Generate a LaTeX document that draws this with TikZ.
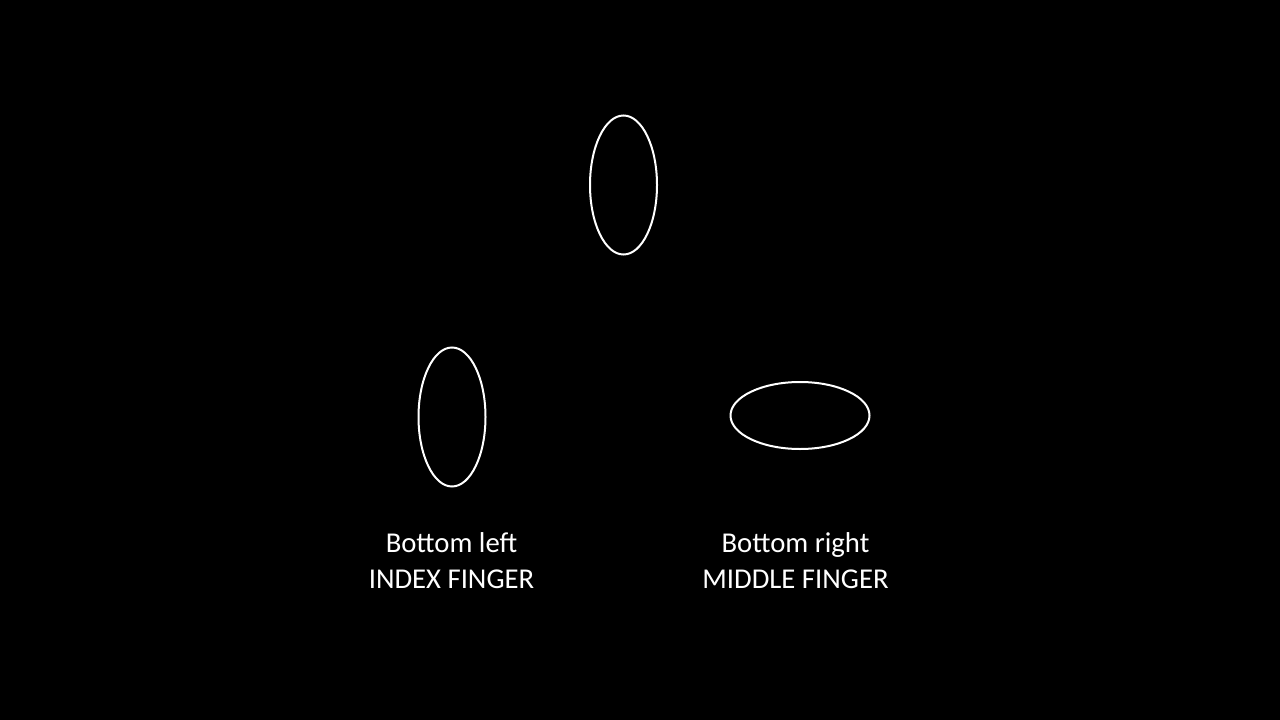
\documentclass[tikz,border=0pt]{standalone}
\usepackage{fontspec}
\setmainfont{Carlito}
\begin{document}
\begin{tikzpicture}[x=1pt,y=-1pt,
  ring/.style={draw=white,line width=2pt},
  lbl/.style={text=white,font=\fontsize{28.7}{36}\selectfont,align=center,inner sep=0pt}]
\fill[black] (0,0) rectangle (1280,720);
\useasboundingbox (0,0) rectangle (1280,720);
\draw[ring] (623.5,185) ellipse [x radius=33.5, y radius=69.5];
\coordinate (top) at (623.5,185);
\draw[ring] (452,417) ellipse [x radius=33.5, y radius=69.5];
\draw[ring] (800,415.5) ellipse [x radius=69.5, y radius=33.5];
\node[lbl] (bl) at (451.5,561) {Bottom left\\INDEX FINGER};
\node[lbl] (br) at (795.5,561) {Bottom right\\MIDDLE FINGER};
\end{tikzpicture}
\end{document}
